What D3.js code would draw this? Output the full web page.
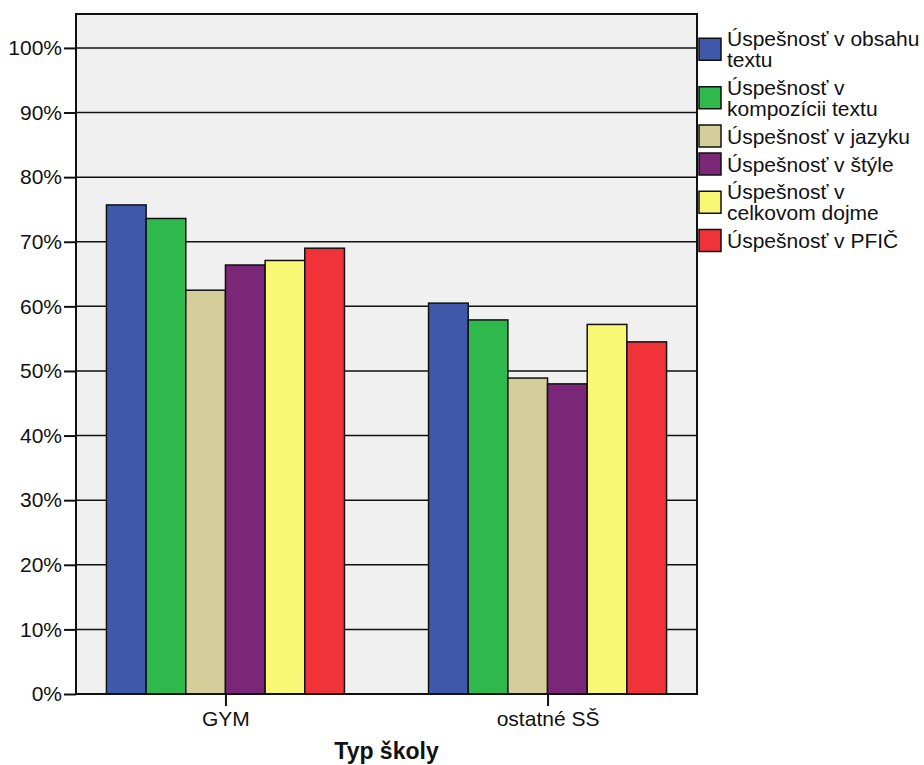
<!DOCTYPE html>
<html><head><meta charset="utf-8">
<script src="https://cdn.jsdelivr.net/npm/d3@7"></script>
<style>body{margin:0;background:#fff}svg{display:block;font-family:"Liberation Sans",Arial,sans-serif}</style>
</head><body><svg id="c" width="924" height="765"></svg>
<script>
const categories = ["GYM", "ostatné SŠ"];
const seriesNames = [
  ["Úspešnosť v obsahu", "textu"],
  ["Úspešnosť v", "kompozícii textu"],
  ["Úspešnosť v jazyku"],
  ["Úspešnosť v štýle"],
  ["Úspešnosť v", "celkovom dojme"],
  ["Úspešnosť v PFIČ"]
];
const seriesColors = ["#3F58AA", "#2FB84B", "#D3CE9A", "#7B2778", "#FAF775", "#EF3338"];
const gymValues = [75.7, 73.6, 62.5, 66.4, 67.1, 69.0];
const ostatneValues = [60.5, 57.9, 48.9, 48.0, 57.2, 54.5];
const yTicks = [0, 10, 20, 30, 40, 50, 60, 70, 80, 90, 100];
const xTitle = "Typ školy";

const values = [gymValues, ostatneValues];
const svg = d3.select("#c");
const L = 76, R = 697, T = 14, B = 694;
const FS = 21;
const y = d3.scaleLinear().domain([0, 105.25]).range([B, T]);
const x = d3.scalePoint().domain(categories).range([L, R]).padding(0.464);
const inner = d3.scaleBand().domain(d3.range(seriesNames.length)).range([-119, 119]);

svg.append("rect").attr("x", L).attr("y", T).attr("width", R - L).attr("height", B - T).attr("fill", "#F0F0F0");

// gridlines
svg.append("g").selectAll("line").data(yTicks.slice(1)).join("line")
  .attr("x1", L).attr("x2", R).attr("y1", d => y(d)).attr("y2", d => y(d))
  .attr("stroke", "#111").attr("stroke-width", 1.5);

// bars
categories.forEach((c, ci) => {
  svg.append("g").selectAll("rect").data(values[ci]).join("rect")
    .attr("x", (d, i) => x(c) + inner(i))
    .attr("y", d => y(d))
    .attr("width", inner.bandwidth())
    .attr("height", d => B - y(d))
    .attr("fill", (d, i) => seriesColors[i])
    .attr("stroke", "#111").attr("stroke-width", 1.5);
});

// frame
svg.append("rect").attr("x", L).attr("y", T).attr("width", R - L).attr("height", B - T)
  .attr("fill", "none").attr("stroke", "#111").attr("stroke-width", 2);

// y axis
const ya = svg.append("g").attr("transform", `translate(${L},0)`)
  .call(d3.axisLeft(y).tickValues(yTicks).tickSize(12).tickPadding(2).tickFormat(d => d + "%"));
ya.select(".domain").remove();
ya.selectAll("line").attr("stroke", "#111").attr("stroke-width", 2);
ya.selectAll("text").attr("font-size", FS).attr("fill", "#111").attr("font-family", "Liberation Sans, Arial, sans-serif");

// x axis
const xa = svg.append("g").attr("transform", `translate(0,${B})`)
  .call(d3.axisBottom(x).tickSize(12).tickPadding(5));
xa.select(".domain").remove();
xa.selectAll("line").attr("stroke", "#111").attr("stroke-width", 2);
xa.selectAll("text").attr("font-size", FS).attr("fill", "#111").attr("font-family", "Liberation Sans, Arial, sans-serif");

svg.append("text").attr("x", (L + R) / 2).attr("y", 759).attr("text-anchor", "middle")
  .attr("font-size", 23).attr("font-weight", "bold").attr("fill", "#111").text(xTitle);

// legend
const lg = svg.append("g");
let legTop = 15;
seriesNames.forEach((lines, i) => {
  const h = 28 + 20.5 * (lines.length - 1);
  const cy = legTop + h / 2 + 10;
  lg.append("rect").attr("x", 699).attr("y", cy - 11).attr("width", 22).attr("height", 22)
    .attr("fill", seriesColors[i]).attr("stroke", "#111").attr("stroke-width", 1.5);
  const b0 = cy + 7.5 - (lines.length - 1) * 10.5;
  lines.forEach((t, j) => {
    lg.append("text").attr("x", 727).attr("y", b0 + j * 21).attr("font-size", FS).attr("fill", "#111").text(t);
  });
  legTop += h;
});
</script></body></html>
